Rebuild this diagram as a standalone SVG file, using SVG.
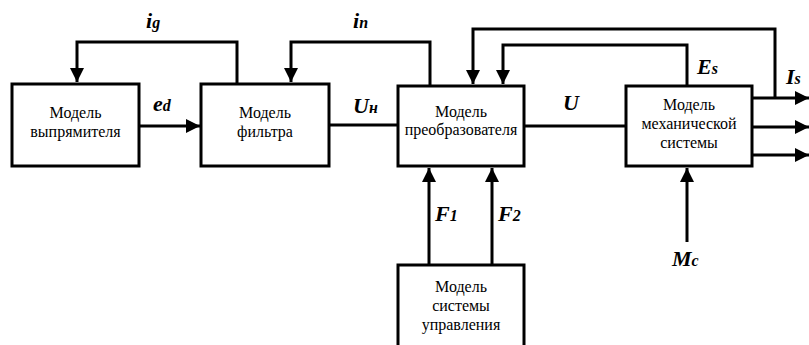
<svg xmlns="http://www.w3.org/2000/svg" width="809" height="345" viewBox="0 0 809 345">
<style>
.box{fill:#fff;stroke:#000;stroke-width:3}
.bt{font-family:"Liberation Serif","DejaVu Serif",serif;font-size:16px;text-anchor:middle;fill:#000}
.ln{fill:none;stroke:#000;stroke-width:3}
.lb{font-family:"Liberation Serif","DejaVu Serif",serif;font-size:22px;font-weight:bold;font-style:italic;fill:#000}
.sb{font-size:16px}
</style>
<defs>
<marker id="ah" markerUnits="userSpaceOnUse" markerWidth="14" markerHeight="14" refX="14" refY="7" orient="auto">
<path d="M0,0 L14,7 L0,14 Z" fill="#000"/>
</marker>
</defs>
<rect width="809" height="345" fill="#fff"/>
<g id="connectors">
<polyline class="ln" points="237,83 237,42 77,42 77,82" marker-end="url(#ah)"/>
<line class="ln" x1="139" y1="126" x2="200" y2="126" marker-end="url(#ah)"/>
<polyline class="ln" points="430,85 430,42 291,42 291,82" marker-end="url(#ah)"/>
<line class="ln" x1="329" y1="125" x2="398" y2="125"/>
<line class="ln" x1="524" y1="126" x2="626" y2="126"/>
<polyline class="ln" points="775,98 775,29 473,29 473,84" marker-end="url(#ah)"/>
<polyline class="ln" points="687,85 687,45 503,45 503,84" marker-end="url(#ah)"/>
<line class="ln" x1="752" y1="98" x2="809" y2="98" marker-end="url(#ah)"/>
<line class="ln" x1="752" y1="127" x2="809" y2="127" marker-end="url(#ah)"/>
<line class="ln" x1="752" y1="155" x2="809" y2="155" marker-end="url(#ah)"/>
<line class="ln" x1="429" y1="264" x2="429" y2="168" marker-end="url(#ah)"/>
<line class="ln" x1="492" y1="264" x2="492" y2="168" marker-end="url(#ah)"/>
<line class="ln" x1="687" y1="242" x2="687" y2="168" marker-end="url(#ah)"/>
</g>
<g id="labels">
<text class="lb" x="146" y="28">i<tspan class="sb">g</tspan></text>
<text class="lb" x="353" y="28">i<tspan class="sb">n</tspan></text>
<text class="lb" x="153" y="111">e<tspan class="sb">d</tspan></text>
<text class="lb" x="353" y="113">U<tspan class="sb">н</tspan></text>
<text class="lb" x="563" y="110">U</text>
<text class="lb" x="697" y="74">E<tspan class="sb">s</tspan></text>
<text class="lb" x="786" y="84">I<tspan class="sb">s</tspan></text>
<text class="lb" x="435" y="221">F<tspan class="sb">1</tspan></text>
<text class="lb" x="498" y="221">F<tspan class="sb">2</tspan></text>
<text class="lb" x="672" y="266">M<tspan class="sb">c</tspan></text>
</g>
<g id="rectifier">
<rect class="box" x="12" y="84" width="127" height="82"/>
<text class="bt" x="75.5" y="118">Модель</text>
<text class="bt" x="75.5" y="137">выпрямителя</text>
</g>
<g id="filter">
<rect class="box" x="201" y="84" width="128" height="82"/>
<text class="bt" x="265" y="118">Модель</text>
<text class="bt" x="265" y="137">фильтра</text>
</g>
<g id="converter">
<rect class="box" x="398" y="86" width="126" height="80"/>
<text class="bt" x="461" y="117">Модель</text>
<text class="bt" x="461" y="135">преобразователя</text>
</g>
<g id="mechanical">
<rect class="box" x="626" y="86" width="126" height="80"/>
<text class="bt" x="689" y="110">Модель</text>
<text class="bt" x="689" y="129">механической</text>
<text class="bt" x="689" y="148">системы</text>
</g>
<g id="control">
<rect class="box" x="398" y="265" width="126" height="90"/>
<text class="bt" x="461" y="292">Модель</text>
<text class="bt" x="461" y="311">системы</text>
<text class="bt" x="461" y="330">управления</text>
</g>
</svg>
